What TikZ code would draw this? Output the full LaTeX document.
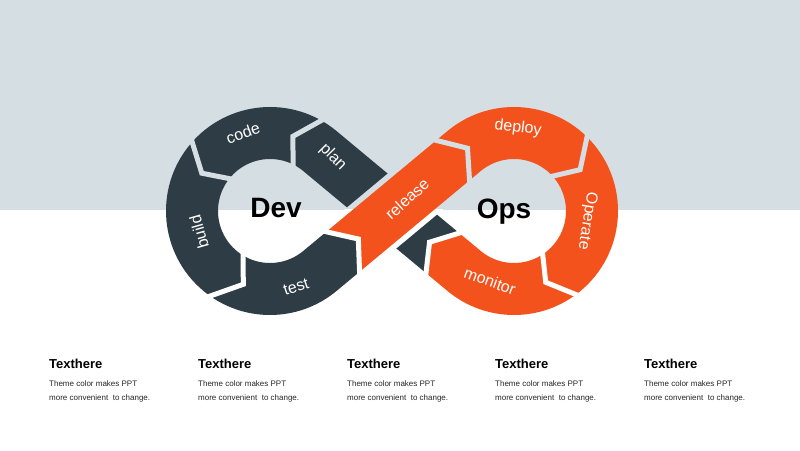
\documentclass[tikz,border=0pt]{standalone}
\usepackage{fontspec}
\setmainfont{Liberation Sans}
\usetikzlibrary{calc}
\definecolor{topgray}{RGB}{213,222,227}
\definecolor{darkc}{RGB}{46,61,69}
\definecolor{orangec}{RGB}{243,82,29}
\colorlet{gapc}{white}
\tikzset{
  gapline/.style={draw=gapc, line width=5pt, line join=miter, line cap=butt},
  seglabel/.style={text=white, font=\fontsize{16}{16}\selectfont, inner sep=0pt},
  bigword/.style={text=black, font=\fontsize{28}{28}\selectfont\bfseries, anchor=base, inner sep=0pt},
  colhead/.style={anchor=base west, inner sep=0pt, text=black, font=\fontsize{13}{13}\selectfont\bfseries},
  colbody/.style={anchor=base west, inner sep=0pt, font=\fontsize{8}{8}\selectfont, text=black!85},
}
\newcommand\crossbgpath{\draw[gapc, line width=63pt] (cA) -- (cB);}
\newcommand\gappaths{%
  \draw[gapline] ($(D)+(302:112)$) -- ($(D)+(287:78)$) -- ($(D)+(302:44)$);
  \draw[gapline] ($(D)+(224:112)$) -- ($(D)+(209:78)$) -- ($(D)+(224:44)$);
  \draw[gapline] ($(D)+(128:112)$) -- ($(D)+(110:78)$) -- ($(D)+(128:44)$);
  \draw[gapline] ($(O)+(312:112)$) -- ($(O)+(328:78)$) -- ($(O)+(312:44)$);
  \draw[gapline] ($(O)+(51:112)$) -- ($(O)+(66:78)$) -- ($(O)+(51:44)$);
  \draw[gapline] (426.899,138.023) -- (467.502,148.222) -- (470.119,190.003);
  \draw[gapline] (359.934,281.622) -- (358.315,239.009) -- (316.714,229.642);
  \draw[gapline] (424.912,282.324) -- (429.530,242.206) -- (468.132,230.345);
}
\begin{document}
\begin{tikzpicture}[x=1pt,y=-1pt]
\useasboundingbox (0,0) rectangle (800,450);
\fill[topgray] (0,0) rectangle (800,209.5);
\fill[white] (0,209.5) rectangle (800,450);
\coordinate (D) at (270,211);
\coordinate (O) at (514,211);
\coordinate (TDP) at (319.869,151.024);
\coordinate (TOR) at (464.131,151.024);
\coordinate (Sd) at (442.601,253.074);
\coordinate (Ed) at (342.937,251.796);
\coordinate (cA) at (361.391,236.451);
\coordinate (cB) at (422.904,185.304);
% dark run: plan band, Dev ring, end of test
\draw[darkc, line width=52pt] (Sd) -- (TDP) arc[start angle=309.742, end angle=50.258, radius=78] -- (Ed);
% gap around release where it crosses plan
\begin{scope}\clip (0,0) rectangle (800,209.5); \colorlet{gapc}{topgray}\crossbgpath\end{scope}
\begin{scope}\clip (0,209.5) rectangle (800,450); \colorlet{gapc}{white}\crossbgpath\end{scope}
% orange run: release band, Ops ring, end of monitor
\draw[orangec, line width=52pt] (Ed) -- (TOR) arc[start angle=230.258, end angle=489.742, radius=78] -- (Sd);
% arrow tips where the colour changes
\fill[orangec] (426.747,273.705) -- (425.978,273.066) -- (429.530,242.206) -- (459.224,233.082) -- (459.993,233.721) -- cycle;
\fill[darkc] (358.791,272.427) -- (359.560,271.788) -- (358.315,239.009) -- (326.314,231.804) -- (325.545,232.443) -- cycle;
% chevron gaps
\begin{scope}\clip (0,0) rectangle (800,209.5); \colorlet{gapc}{topgray}\gappaths\end{scope}
\begin{scope}\clip (0,209.5) rectangle (800,450); \colorlet{gapc}{white}\gappaths\end{scope}
% labels
\node[seglabel, rotate=20] (lcode) at (243,133) {code};
\node[seglabel, rotate=-45] (lplan) at (333,157) {plan};
\node[seglabel, rotate=106] (lbuild) at (199,232) {build};
\node[seglabel, rotate=18] (ltest) at (296,287) {test};
\node[seglabel, rotate=42] (lrelease) at (407,199) {release};
\node[seglabel, rotate=-7] (ldeploy) at (518,128) {deploy};
\node[seglabel, rotate=-99] (loperate) at (587,221) {Operate};
\node[seglabel, rotate=-20] (lmonitor) at (490,281) {monitor};
\node[bigword] (dev) at (276,217.5) {Dev};
\node[bigword] (ops) at (504,218) {Ops};
% bottom columns
\foreach \i/\x in {1/49,2/198,3/347,4/495,5/644}{
  \node[colhead] (h\i) at (\x,368) {Texthere};
  \node[colbody] (b\i) at (\x,386) {Theme color makes PPT};
  \node[colbody] (c\i) at (\x,400) {more convenient\ \ to change.};
}
\end{tikzpicture}
\end{document}
